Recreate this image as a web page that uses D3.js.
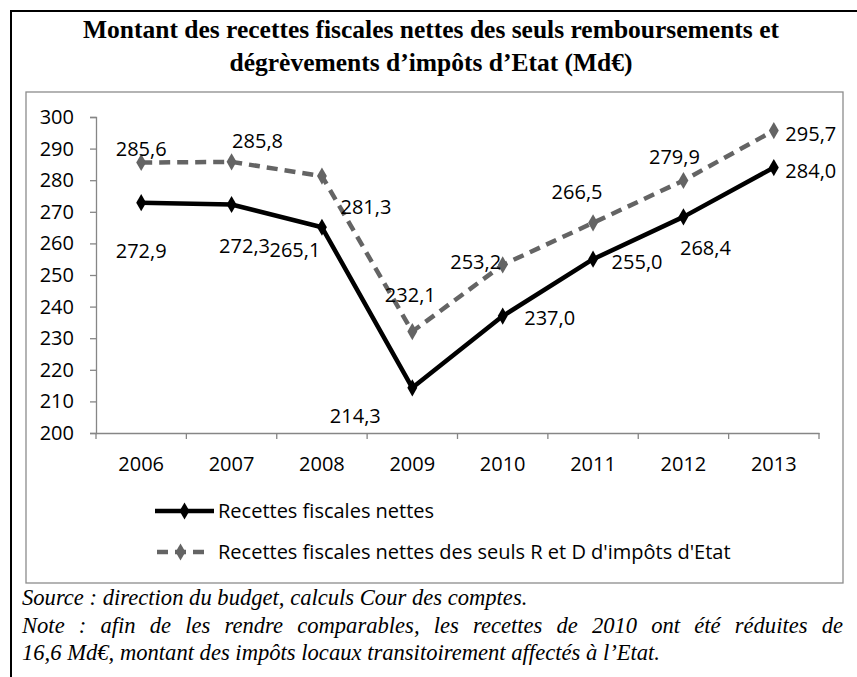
<!DOCTYPE html>
<html lang="fr">
<head>
<meta charset="utf-8">
<script src="https://cdn.jsdelivr.net/npm/d3@7/dist/d3.min.js"></script>
<style>
  html, body { margin: 0; padding: 0; background: #fff; }
  svg { display: block; }
</style>
</head>
<body>
<svg id="chart" width="857" height="677"></svg>
<script>
// Data
const years = ['2006', '2007', '2008', '2009', '2010', '2011', '2012', '2013'];
const recettesNettes = [272.9, 272.3, 265.1, 214.3, 237.0, 255.0, 268.4, 284.0];
const recettesRD = [285.6, 285.8, 281.3, 232.1, 253.2, 266.5, 279.9, 295.7];
const yTicks = [200, 210, 220, 230, 240, 250, 260, 270, 280, 290, 300];
const seriesNames = ['Recettes fiscales nettes', "Recettes fiscales nettes des seuls R et D d'impôts d'Etat"];
const titleLines = ['Montant des recettes fiscales nettes des seuls remboursements et', 'dégrèvements d’impôts d’Etat (Md€)'];
const sourceText = 'Source : direction du budget, calculs Cour des comptes.';
const noteLines = [
  'Note : afin de les rendre comparables, les recettes de 2010 ont été réduites de',
  '16,6 Md€, montant des impôts locaux transitoirement affectés à l’Etat.'
];

// label offsets (Excel-ish placement), one per point
const labelOffNettes = [[0, 48], [13, 41], [-27, 23], [-57, 28], [47, 2], [44, 3], [22, 31], [37, 3]];
const labelOffRD = [[0, -14], [26, -21], [44, 31], [-2, -37], [-27, -3], [-16, -31], [-9, -24], [37, 3]];

const svg = d3.select('#chart');
const fontSans = '"Open Sans", "Noto Sans", sans-serif';
const fontSerif = '"Liberation Serif", "Times New Roman", serif';
const sansSize = 20;
const serifSize = 22.6;

// Outer frame
svg.append('rect')
  .attr('x', 11).attr('y', 11)
  .attr('width', 900).attr('height', 700)
  .attr('fill', 'none')
  .attr('stroke', '#000')
  .attr('stroke-width', 2);

// Title
svg.append('g').selectAll('text')
  .data(titleLines)
  .enter().append('text')
  .attr('x', 431)
  .attr('y', (d, i) => 38 + i * 33)
  .attr('text-anchor', 'middle')
  .attr('font-family', fontSerif)
  .attr('font-weight', 'bold')
  .attr('font-size', 25.5)
  .text(d => d);

// Chart box
svg.append('rect')
  .attr('x', 26).attr('y', 92)
  .attr('width', 817).attr('height', 491)
  .attr('fill', '#fff')
  .attr('stroke', '#8c8c8c')
  .attr('stroke-width', 1.3);

// Scales
const x = d3.scaleBand().domain(years).range([96, 819]);
const y = d3.scaleLinear().domain([200, 300]).range([433, 117]);
const cx = d => x(d) + x.bandwidth() / 2;

// Y axis
const yAxis = svg.append('g')
  .attr('transform', 'translate(96,0)')
  .call(d3.axisLeft(y).tickValues(yTicks).tickSize(6).tickPadding(16));
yAxis.select('.domain').attr('stroke', '#868686').attr('stroke-width', 1.3);
yAxis.selectAll('.tick line').attr('stroke', '#868686').attr('stroke-width', 1.3);
yAxis.selectAll('.tick text')
  .attr('font-family', fontSans)
  .attr('font-size', sansSize)
  .attr('fill', '#000');

// X axis (labels centred, ticks on category boundaries like Excel)
const xAxis = svg.append('g')
  .attr('transform', 'translate(0,433)')
  .call(d3.axisBottom(x).tickSize(0).tickPadding(24));
xAxis.select('.domain').attr('stroke', '#868686').attr('stroke-width', 1.3);
xAxis.selectAll('.tick text')
  .attr('font-family', fontSans)
  .attr('font-size', sansSize)
  .attr('fill', '#000');
xAxis.selectAll('.boundary')
  .data(years.concat(['end']))
  .enter().append('line')
  .attr('class', 'boundary')
  .attr('x1', (d, i) => x.range()[0] + i * x.step())
  .attr('x2', (d, i) => x.range()[0] + i * x.step())
  .attr('y1', 0).attr('y2', 6)
  .attr('stroke', '#868686')
  .attr('stroke-width', 1.3);

// Lines
const line = d3.line()
  .x((d, i) => cx(years[i]))
  .y(d => y(d));

const diamond = d3.symbol().type(d3.symbolDiamond).size(85);

const series = [
  { name: seriesNames[1], values: recettesRD, color: '#646464', dash: '11,7', offs: labelOffRD },
  { name: seriesNames[0], values: recettesNettes, color: '#000', dash: null, offs: labelOffNettes }
];

series.forEach(s => {
  svg.append('path')
    .datum(s.values)
    .attr('d', line)
    .attr('fill', 'none')
    .attr('stroke', s.color)
    .attr('stroke-width', 4.5)
    .attr('stroke-dasharray', s.dash)
    .attr('stroke-linejoin', 'round');

  svg.append('g').selectAll('path')
    .data(s.values)
    .enter().append('path')
    .attr('d', diamond)
    .attr('transform', (d, i) => `translate(${cx(years[i])},${y(d)})`)
    .attr('fill', s.color);

  svg.append('g').selectAll('text')
    .data(s.values)
    .enter().append('text')
    .attr('x', (d, i) => cx(years[i]) + s.offs[i][0])
    .attr('y', (d, i) => y(d) + s.offs[i][1])
    .attr('dy', '0.35em')
    .attr('text-anchor', 'middle')
    .attr('font-family', fontSans)
    .attr('font-size', sansSize)
    .text(d => d3.format('.1f')(d).replace('.', ','));
});

// Legend
const legend = svg.append('g');
const legendItems = [
  { name: seriesNames[0], color: '#000', dash: null, y: 511, x1: 155, x2: 214 },
  { name: seriesNames[1], color: '#646464', dash: '11,7', y: 552, x1: 157, x2: 204 }
];
legendItems.forEach(it => {
  legend.append('line')
    .attr('x1', it.x1).attr('x2', it.x2)
    .attr('y1', it.y).attr('y2', it.y)
    .attr('stroke', it.color)
    .attr('stroke-width', 4.5)
    .attr('stroke-dasharray', it.dash);
  legend.append('path')
    .attr('d', diamond)
    .attr('transform', `translate(${(it.x1 + it.x2) / 2},${it.y})`)
    .attr('fill', it.color);
  legend.append('text')
    .attr('x', 218)
    .attr('y', it.y)
    .attr('dy', '0.35em')
    .attr('font-family', fontSans)
    .attr('font-size', sansSize)
    .text(it.name);
});

// Footer
svg.append('text')
  .attr('x', 22).attr('y', 605)
  .attr('font-family', fontSerif)
  .attr('font-style', 'italic')
  .attr('font-size', serifSize)
  .text(sourceText);

// Justified first note line: spread words between left and right margin
function justified(textStr, yPos, left, right) {
  const words = textStr.split(' ');
  const g = svg.append('g');
  const nodes = words.map(w => g.append('text')
    .attr('y', yPos)
    .attr('font-family', fontSerif)
    .attr('font-style', 'italic')
    .attr('font-size', serifSize)
    .text(w));
  const widths = nodes.map(n => n.node().getComputedTextLength());
  const gap = (right - left - d3.sum(widths)) / (words.length - 1);
  let cur = left;
  nodes.forEach((n, i) => {
    n.attr('x', cur);
    cur += widths[i] + gap;
  });
}
justified(noteLines[0], 633, 22, 843);

svg.append('text')
  .attr('x', 22).attr('y', 660)
  .attr('font-family', fontSerif)
  .attr('font-style', 'italic')
  .attr('font-size', serifSize)
  .text(noteLines[1]);
</script>
</body>
</html>
